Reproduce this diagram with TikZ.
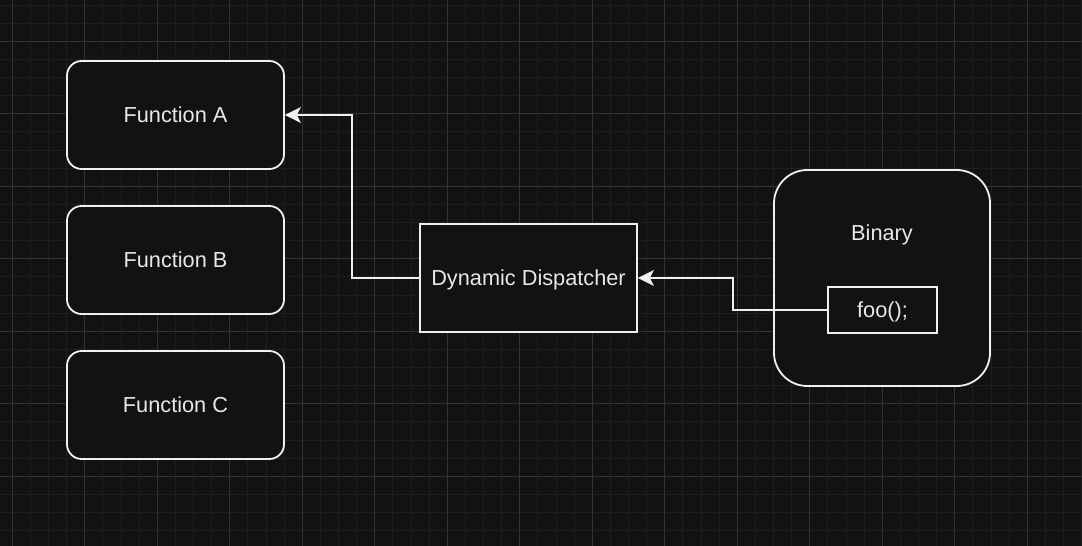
\documentclass[tikz,border=0pt]{standalone}
\usepackage{fontspec}
\setmainfont{Liberation Sans}
\usetikzlibrary{arrows.meta}
\definecolor{bg}{HTML}{121212}
\definecolor{minorc}{HTML}{1E1E1E}
\definecolor{majorc}{HTML}{333333}
\definecolor{fg}{HTML}{F0F0F0}
\definecolor{txt}{HTML}{E8E8E8}
\begin{document}
\begin{tikzpicture}[x=0.75pt,y=-0.75pt,
  box/.style={draw=fg, fill=bg, line width=1.35pt, text=txt, font=\fontsize{16.3}{19.5}\selectfont,
    minimum width=162.75pt, minimum height=81pt, inner sep=0pt, text height=11.7pt, text depth=0pt},
  rbox/.style={box, rounded corners=11pt},
  lbl/.style={text=txt, font=\fontsize{16.3}{19.5}\selectfont, inner sep=0pt, text height=11.7pt, text depth=0pt},
  arr/.style={draw=fg, line width=1.35pt, -{Stealth[length=12pt,width=12pt,inset=3pt]}}]
\fill[bg] (0,0) rectangle (1082,546);
\useasboundingbox (0,0) rectangle (1082,546);
\foreach \i in {0,...,59}{
  \pgfmathsetmacro{\xx}{12.3+18.125*\i}
  \draw[minorc, line width=0.75pt] (\xx,0) -- (\xx,546);
}
\foreach \j in {0,...,29}{
  \pgfmathsetmacro{\yy}{5.05+18.125*\j}
  \draw[minorc, line width=0.75pt] (0,\yy) -- (1082,\yy);
}
\foreach \i in {0,4,...,56}{
  \pgfmathsetmacro{\xx}{12.3+18.125*\i}
  \draw[majorc, line width=0.75pt] (\xx,0) -- (\xx,546);
}
\foreach \j in {2,6,...,30}{
  \pgfmathsetmacro{\yy}{5.05+18.125*\j}
  \draw[majorc, line width=0.75pt] (0,\yy) -- (1082,\yy);
}
\node[rbox] (fa) at (175.5,115) {Function A};
\node[rbox] (fb) at (175.5,260) {Function B};
\node[rbox] (fc) at (175.5,405) {Function C};
\node[box] (disp) at (528.5,278) {Dynamic Dispatcher};
\node[box, rounded corners=25pt, minimum width=162pt, minimum height=162pt] (bin) at (882,278) {};
\node[lbl] (binlbl) at (882,233) {Binary};
\node[box, minimum width=81.75pt, minimum height=34.5pt] (foo) at (882.5,310) {foo();};
\coordinate (k1) at (352,278);
\coordinate (k2) at (733,278);
\draw[arr] (disp.west) -- (k1) |- (fa.east);
\draw[arr] (foo.west) -| (k2) -- (disp.east);
\end{tikzpicture}
\end{document}
